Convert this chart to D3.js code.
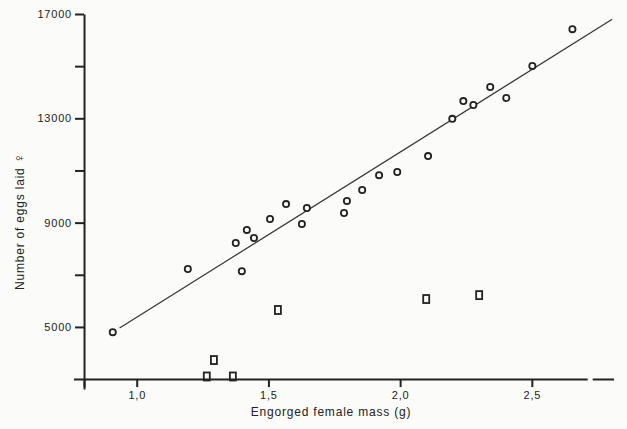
<!DOCTYPE html>
<html>
<head>
<meta charset="utf-8">
<script src="https://cdn.jsdelivr.net/npm/d3@7"></script>
<style>
  body { margin: 0; background: #fbfbf9; }
  svg { display: block; }
  .axis path, .axis line { stroke: #222; stroke-width: 2px; }
  .axis text { font-family: "Liberation Sans", Arial, sans-serif; font-size: 11px; fill: #222; letter-spacing: 0.8px; }
  .title { font-family: "Liberation Sans", Arial, sans-serif; font-size: 12px; fill: #222; letter-spacing: 0.8px; }
</style>
</head>
<body>
<div id="vis"></div>
<script>
const FRAME_WIDTH = 627;
const FRAME_HEIGHT = 429;

// circles: females with normal egg laying
const massCircles = [0.909, 1.194, 1.376, 1.418, 1.399, 1.445, 1.506, 1.567, 1.627, 1.646,
                     1.787, 1.798, 1.856, 1.920, 1.989, 2.106, 2.198, 2.240, 2.278, 2.342,
                     2.403, 2.502, 2.654];
const eggsCircles = [4800, 7220, 8220, 8720, 7140, 8410, 9140, 9710, 8950, 9560,
                     9370, 9830, 10250, 10820, 10940, 11550, 12980, 13660, 13510, 14200,
                     13780, 15010, 16420];

// squares
const massSquares = [1.266, 1.293, 1.365, 1.536, 2.099, 2.300];
const eggsSquares = [3100, 3730, 3100, 5650, 6070, 6220];

// fitted line end points
const fitMass = [0.935, 2.805];
const fitEggs = [4960, 16800];

const xTicks = [0.8, 1.0, 1.5, 2.0, 2.5];
const yTicks = [5000, 7000, 9000, 11000, 13000, 15000, 17000];
const yLabelled = [5000, 9000, 13000, 17000];

const svg = d3.select("#vis")
  .append("svg")
    .attr("width", FRAME_WIDTH)
    .attr("height", FRAME_HEIGHT);

svg.append("rect")
  .attr("width", FRAME_WIDTH)
  .attr("height", FRAME_HEIGHT)
  .attr("fill", "#fbfbf9");

const X_SCALE = d3.scaleLinear()
  .domain([0.76, 2.81])
  .range([73.5, 613.5]);

const Y_SCALE = d3.scaleLinear()
  .domain([2620, 17000])
  .range([389, 14]);

// squares go under the axis (the low ones sit on it)
svg.selectAll(".sq")
  .data(massSquares)
  .enter()
  .append("rect")
    .attr("x", (d) => X_SCALE(d) - 3)
    .attr("y", (d, i) => Y_SCALE(eggsSquares[i]) - 4)
    .attr("width", 6)
    .attr("height", 8)
    .attr("fill", "none")
    .attr("stroke", "#222")
    .attr("stroke-width", 1.8);

// x axis
svg.append("g")
  .attr("class", "axis")
  .attr("transform", "translate(0," + Y_SCALE(3000) + ")")
  .call(d3.axisBottom(X_SCALE)
    .tickValues(xTicks)
    .tickSize(8)
    .tickSizeOuter(0)
    .tickPadding(4)
    .tickFormat((d) => d < 0.9 ? "" : d3.format(".1f")(d).replace(".", ",")));

// little break near the right end of the x axis
svg.append("rect")
  .attr("x", X_SCALE(2.712))
  .attr("y", Y_SCALE(3000) - 3)
  .attr("width", 5)
  .attr("height", 6)
  .attr("fill", "#fbfbf9");

// y axis
svg.append("g")
  .attr("class", "axis")
  .attr("transform", "translate(" + X_SCALE(0.8) + ",0)")
  .call(d3.axisLeft(Y_SCALE)
    .tickValues(yTicks)
    .tickSize(9)
    .tickSizeOuter(0)
    .tickPadding(3)
    .tickFormat((d) => yLabelled.includes(d) ? d : ""));

// regression line
svg.append("line")
  .attr("x1", X_SCALE(fitMass[0]))
  .attr("y1", Y_SCALE(fitEggs[0]))
  .attr("x2", X_SCALE(fitMass[1]))
  .attr("y2", Y_SCALE(fitEggs[1]))
  .attr("stroke", "#333")
  .attr("stroke-width", 1.2);

// circles
svg.selectAll(".pt")
  .data(massCircles)
  .enter()
  .append("circle")
    .attr("cx", (d) => X_SCALE(d))
    .attr("cy", (d, i) => Y_SCALE(eggsCircles[i]))
    .attr("r", 3.1)
    .attr("fill", "#fbfbf9")
    .attr("stroke", "#222")
    .attr("stroke-width", 1.8);

// axis titles
svg.append("text")
  .attr("class", "title")
  .attr("x", 331)
  .attr("y", 416)
  .attr("text-anchor", "middle")
  .text("Engorged female mass (g)");

const yTitle = svg.append("text")
  .attr("class", "title")
  .attr("transform", "translate(24,221) rotate(-90)")
  .attr("text-anchor", "middle");
yTitle.append("tspan").text("Number of eggs laid ");
yTitle.append("tspan").style("font-size", "14px").text("♀");
</script>
</body>
</html>
